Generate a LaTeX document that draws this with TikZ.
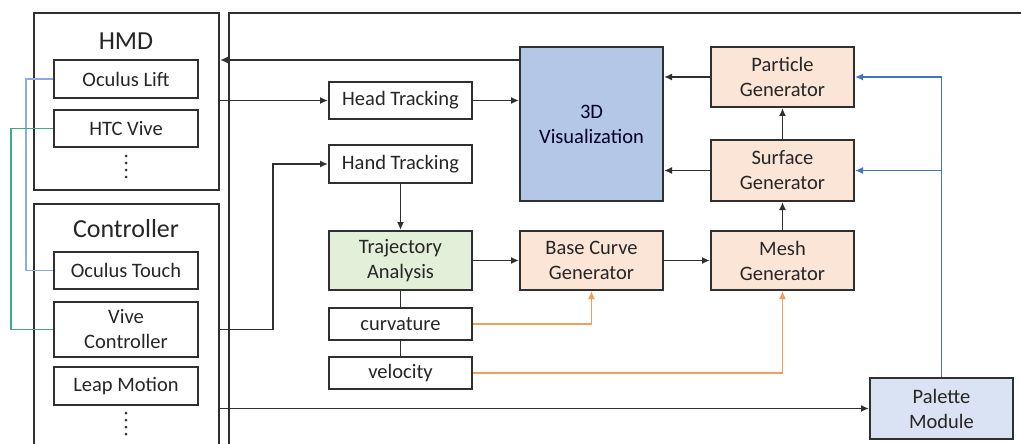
\documentclass[tikz,border=0pt]{standalone}
\usepackage{fontspec}
\setmainfont{Carlito}
\usetikzlibrary{arrows.meta,calc}
\definecolor{txt}{HTML}{262626}
\definecolor{vizfill}{HTML}{B4C7E7}
\definecolor{genfill}{HTML}{FBE5D6}
\definecolor{trajfill}{HTML}{E2F0D9}
\definecolor{palfill}{HTML}{DAE3F3}
\definecolor{bluel}{HTML}{4472C4}
\definecolor{greyblue}{HTML}{8FAADC}
\definecolor{greenl}{HTML}{3DAE84}
\definecolor{orangel}{HTML}{F0A05C}
\definecolor{edge}{HTML}{303030}
\tikzset{
  box/.style={draw=edge, line width=2pt, inner sep=0pt, align=center, text=txt,
     font=\fontsize{20.5}{25}\selectfont, minimum width=144pt},
  frame/.style={draw=edge, line width=2pt, inner sep=0pt},
  title/.style={text=txt, font=\fontsize{26}{30}\selectfont, inner sep=0pt},
  arr/.style={draw=edge, line width=1.7pt, -{Latex[length=8pt,width=7pt]}},
  plain/.style={draw=edge, line width=1.7pt},
  barr/.style={draw=bluel, line width=1.5pt, -{Latex[length=8pt,width=7pt]}},
  oarr/.style={draw=orangel, line width=1.5pt, -{Latex[length=8pt,width=7pt]}},
  dotc/.style={fill=edge, draw=none, circle, inner sep=0pt, minimum size=3pt},
}
\begin{document}
\begin{tikzpicture}[x=1pt,y=-1pt]
\clip (0,0) rectangle (1021,444);
\fill[white] (0,0) rectangle (1021,444);
% frames
\node[frame, minimum width=185pt, minimum height=177pt] (hmd) at (126.5,101.5) {};
\node[frame, minimum width=185pt, minimum height=280pt] (ctrl) at (126.5,344) {};
\node[frame, minimum width=820pt, minimum height=460pt] (sys) at (639,243) {};
\node[title] (hmdt) at (126,41) {HMD};
\node[title] (ctrlt) at (126,229) {Controller};
% HMD / controller items
\node[box, minimum height=38pt] (lift) at (126,79) {Oculus Lift};
\node[box, minimum height=37pt] (htc) at (126,128.5) {HTC Vive};
\node[dotc] (d1a) at (126,156) {};
\node[dotc] (d1b) at (126,163) {};
\node[dotc] (d1c) at (126,170) {};
\node[dotc] (d1d) at (126,177) {};
\node[box, minimum height=37pt] (touch) at (126,270.5) {Oculus Touch};
\node[box, minimum height=55pt] (vivec) at (126,329.5) {Vive\\Controller};
\node[box, minimum height=38pt] (leap) at (126,386) {Leap Motion};
\node[dotc] (d2a) at (126,413) {};
\node[dotc] (d2b) at (126,420) {};
\node[dotc] (d2c) at (126,427) {};
\node[dotc] (d2d) at (126,434) {};
% system nodes
\node[box, minimum width=143pt, minimum height=37pt] (head) at (400.5,100.5) {Head Tracking};
\node[box, minimum width=143pt, minimum height=38pt] (hand) at (400.5,164) {Hand Tracking};
\node[box, minimum width=143pt, minimum height=59pt, fill=trajfill] (traj) at (400.5,260.5) {Trajectory\\Analysis};
\node[box, minimum width=143pt, minimum height=32pt] (curv) at (400.5,324) {curvature};
\node[box, minimum width=143pt, minimum height=32pt] (vel) at (400.5,373) {velocity};
\node[box, minimum width=143pt, minimum height=154pt, fill=vizfill, text=black!85!blue] (viz) at (591.5,124) {3D\\Visualization};
\node[box, minimum width=143pt, minimum height=59pt, fill=genfill] (base) at (591.5,260.5) {Base Curve\\Generator};
\node[box, minimum width=143pt, minimum height=60pt, fill=genfill] (part) at (782.5,77) {Particle\\Generator};
\node[box, minimum width=143pt, minimum height=61pt, fill=genfill] (surf) at (782.5,170.5) {Surface\\Generator};
\node[box, minimum width=143pt, minimum height=59pt, fill=genfill] (mesh) at (782.5,260.5) {Mesh\\Generator};
\node[box, minimum width=143pt, minimum height=61pt, fill=palfill] (pal) at (941.5,408.5) {Palette\\Module};
% coordinates
\coordinate (vizout) at ($(viz.north west)+(0,14)$);
\coordinate (handbend) at (273,164);
% connectors
\draw[arr] (vizout) -- (vizout -| hmd.east);
\draw[arr] (head.west -| hmd.east) -- (head.west);
\draw[arr] (head.east) -- (head.east -| viz.west);
\draw[arr] (vivec.east -| ctrl.east) -| (handbend) -- (hand.west);
\draw[arr] (hand.south) -- (traj.north);
\draw[plain] (traj.south) -- (curv.north);
\draw[plain] (curv.south) -- (vel.north);
\draw[arr] (traj.east) -- (base.west);
\draw[arr] (base.east) -- (mesh.west);
\draw[arr] (mesh.north) -- (surf.south);
\draw[arr] (surf.north) -- (part.south);
\draw[arr] (part.west) -- (part.west -| viz.east);
\draw[arr] (surf.west) -- (surf.west -| viz.east);
\draw[oarr] (curv.east) -| (base.south);
\draw[oarr] (vel.east) -| (mesh.south);
\draw[arr] (pal.west -| ctrl.east) -- (pal.west);
\draw[barr] (pal.north) |- (part.east);
\draw[barr] (pal.north |- surf.east) -- (surf.east);
\draw[draw=greyblue, line width=1.5pt] (lift.west) -- ++(-27,0) |- (touch.west);
\draw[draw=greenl, line width=1.5pt] (htc.west) -- ++(-42,0) |- (vivec.west);
\end{tikzpicture}
\end{document}
